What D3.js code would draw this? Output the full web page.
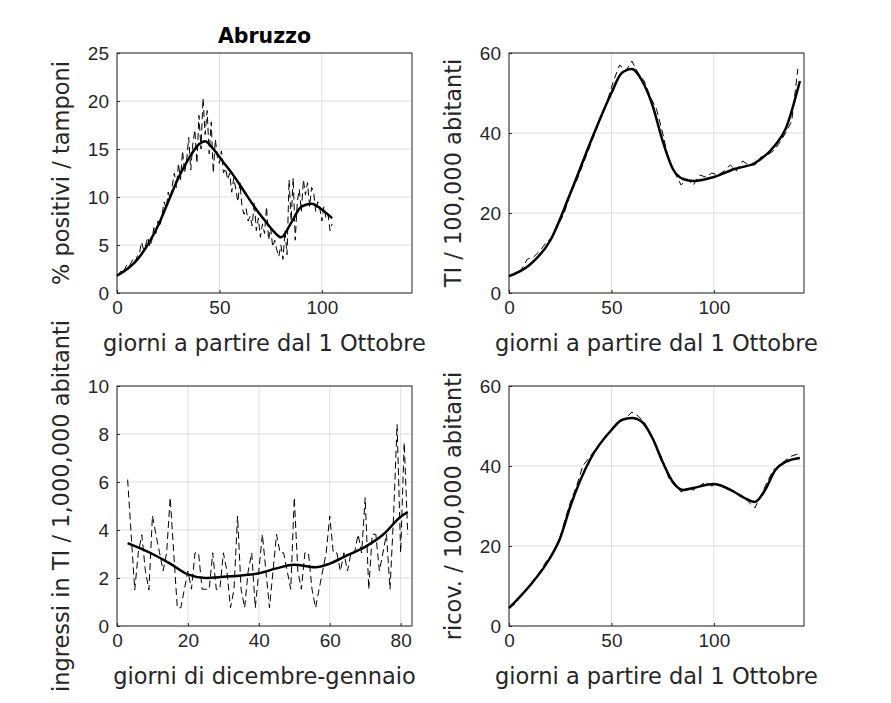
<!DOCTYPE html><html><head><meta charset="utf-8"><script src="https://cdn.jsdelivr.net/npm/d3@7"></script>
<style>body{margin:0;background:#fff}svg{font-family:"DejaVu Sans",sans-serif}</style></head><body><svg id="c" width="891" height="703"></svg>
<script>
const posRaw=[1.8,2.0,2.3,2.1,2.6,3.0,2.8,3.2,3.6,3.3,3.9,4.2,5.3,4.5,5.0,5.8,4.8,5.5,6.8,6.2,7.5,6.9,8.2,9.5,8.8,10.5,9.8,11.2,12.5,11.0,13.5,11.8,14.8,12.5,13.8,16.2,12.8,15.5,17.0,13.5,18.5,15.0,20.3,16.5,19.0,14.5,17.8,12.5,16.0,14.2,13.5,14.8,12.5,13.0,11.8,12.5,10.5,12.0,10.8,9.5,11.5,9.0,8.2,8.8,7.5,8.0,7.0,9.5,6.5,7.8,5.8,7.2,6.2,9.0,5.5,6.8,4.8,5.5,4.5,3.8,5.0,3.5,6.5,4.0,11.8,7.5,12.0,5.5,9.5,10.8,8.5,11.8,10.2,11.5,9.0,11.0,10.5,8.5,9.5,8.8,7.5,9.0,7.8,8.2,6.5,7.2];
const posDays=posRaw.map((v,i)=>i);
const posSmoothX=[0,10,20,25,30,35,40,43,47,52,57,62,67,72,77,80,85,90,95,100,105];
const posSmooth=[1.8,3.5,7,9.5,12,14,15.5,15.8,15.0,13.6,12.2,10.6,9.0,7.6,6.3,5.8,7.3,9.0,9.3,8.7,7.8];
const d3Days=[0,3,6,9,12,15,18,21,24,27,30,33,36,39,42,45,48,51,54,57,60,63,66,69,72,75,78,81,84,87,90,93,96,99,102,105,108,111,114,117,120,123,126,129,132,135,138,141];
const tiRaw=[4.2,4.6,5.8,8.5,9,10.5,12.5,14,17,20,25,28,32,36,40,44,48,53,57,55.5,58,55,53,49,46,40,33,30,27,28.5,27,29.5,29,30,29.5,30.5,32,30.5,33,32,32,34,34.5,35.5,37.5,40,43,56];
const tiSmoothX=[0,10,20,30,40,50,55,60,65,70,75,80,85,90,100,110,120,130,135,142];
const tiSmooth=[4.2,7,13,25,38,50,55,56,53,47,38,31,28.5,28,29,31,32.5,37,41,53];
const ricRaw=[4.5,5.5,7.5,9.5,11.5,13.5,16,18,20.5,26,31,35,40,42,44,46,48,49.5,51,52,53.5,52.5,51,48,45,41.5,37,35,33.5,34.5,34,35,36,35,35.5,34.5,34,33,32.5,31,29.5,32.5,36,39,40,41.5,42.5,43];
const ricSmoothX=[0,10,20,25,30,40,50,55,60,65,70,75,80,85,90,100,110,115,120,125,130,135,142];
const ricSmooth=[4.5,10,17,22,30,42,49,51.5,52,51,47,41,36,34,34.5,35.5,33.5,32,31,34,39,41,42];
const ingDays=d3.range(3,83);
const ingRaw=[6.1,3.8,1.5,3.05,3.8,2.3,1.5,4.6,3.8,3.05,2.3,3.05,5.35,3.05,0.76,0.76,1.53,2.29,1.53,3.05,3.05,1.53,1.53,1.53,3.05,1.53,1.53,3.05,2.29,0.76,1.53,4.58,1.53,0.76,2.29,3.05,0.76,2.29,3.82,2.29,0.76,2.29,3.82,3.05,3.05,2.29,1.53,5.35,2.29,1.53,3.05,3.05,1.53,0.76,1.53,2.29,3.05,4.58,3.05,3.05,2.29,3.05,2.29,3.05,3.05,3.82,3.05,5.35,1.53,3.82,3.82,2.29,3.05,3.82,1.53,4.58,8.4,3.05,7.64,3.82];
const ingSmoothX=[3,10,15,20,25,30,40,45,50,56,60,65,70,75,80,82];
const ingSmooth=[3.45,3.0,2.6,2.15,2.0,2.05,2.2,2.4,2.55,2.45,2.6,2.95,3.3,3.8,4.55,4.75];

const svg=d3.select("#c");
function panel(o){
  const g=svg.append("g");
  const x=d3.scaleLinear().domain(o.xd).range([o.l,o.l+295]);
  const y=d3.scaleLinear().domain(o.yd).range([o.t+240,o.t]);
  o.xt.forEach(t=>{g.append("line").attr("x1",x(t)).attr("x2",x(t)).attr("y1",o.t).attr("y2",o.t+240).attr("stroke","#dfdfdf");});
  o.yt.forEach(t=>{g.append("line").attr("y1",y(t)).attr("y2",y(t)).attr("x1",o.l).attr("x2",o.l+295).attr("stroke","#dfdfdf");});
  g.append("g").attr("transform",`translate(0,${o.t+240})`).call(d3.axisBottom(x).tickValues(o.xt).tickSizeInner(-3).tickSizeOuter(0).tickPadding(8)).call(a=>{a.select(".domain").remove();a.selectAll("text").attr("font-size",19).attr("fill","#262626");a.selectAll("line").attr("stroke","#262626");});
  g.append("g").attr("transform",`translate(${o.l},0)`).call(d3.axisLeft(y).tickValues(o.yt).tickSizeInner(-3).tickSizeOuter(0).tickPadding(8)).call(a=>{a.select(".domain").remove();a.selectAll("text").attr("font-size",19).attr("fill","#262626");a.selectAll("line").attr("stroke","#262626");});
  g.append("rect").attr("x",o.l).attr("y",o.t).attr("width",295).attr("height",240).attr("fill","none").attr("stroke","#262626");
  const ln=d3.line().x(d=>x(d[0])).y(d=>y(d[1]));
  g.append("path").attr("d",ln(o.rx.map((v,i)=>[v,o.ry[i]]))).attr("fill","none").attr("stroke","#000").attr("stroke-width",1).attr("stroke-dasharray","7,4");
  g.append("path").attr("d",ln.curve(d3.curveMonotoneX)(o.sx.map((v,i)=>[v,o.sy[i]]))).attr("fill","none").attr("stroke","#000").attr("stroke-width",2.5);
  g.append("text").attr("x",o.l+147.5).attr("y",o.t+298).attr("text-anchor","middle").attr("font-size",22.5).attr("fill","#262626").text(o.xl);
  g.append("text").attr("transform",`translate(${o.l-48},${o.t+120}) rotate(-90)`).attr("text-anchor","middle").attr("font-size",22.5).attr("fill","#262626").text(o.yl);
}
panel({l:117,t:53,xd:[0,144],yd:[0,25],xt:[0,50,100],yt:[0,5,10,15,20,25],rx:posDays,ry:posRaw,sx:posSmoothX,sy:posSmooth,xl:"giorni a partire dal 1 Ottobre",yl:"% positivi / tamponi"});
panel({l:509,t:53,xd:[0,144],yd:[0,60],xt:[0,50,100],yt:[0,20,40,60],rx:d3Days,ry:tiRaw,sx:tiSmoothX,sy:tiSmooth,xl:"giorni a partire dal 1 Ottobre",yl:"TI / 100,000 abitanti"});
panel({l:117,t:386,xd:[0,83.2],yd:[0,10],xt:[0,20,40,60,80],yt:[0,2,4,6,8,10],rx:ingDays,ry:ingRaw,sx:ingSmoothX,sy:ingSmooth,xl:"giorni di dicembre-gennaio",yl:"ingressi in TI / 1,000,000 abitanti"});
panel({l:509,t:386,xd:[0,144],yd:[0,60],xt:[0,50,100],yt:[0,20,40,60],rx:d3Days,ry:ricRaw,sx:ricSmoothX,sy:ricSmooth,xl:"giorni a partire dal 1 Ottobre",yl:"ricov. / 100,000 abitanti"});
svg.append("text").attr("x",264.5).attr("y",43).attr("text-anchor","middle").attr("font-size",20.5).attr("font-weight","bold").text("Abruzzo");
</script></body></html>
